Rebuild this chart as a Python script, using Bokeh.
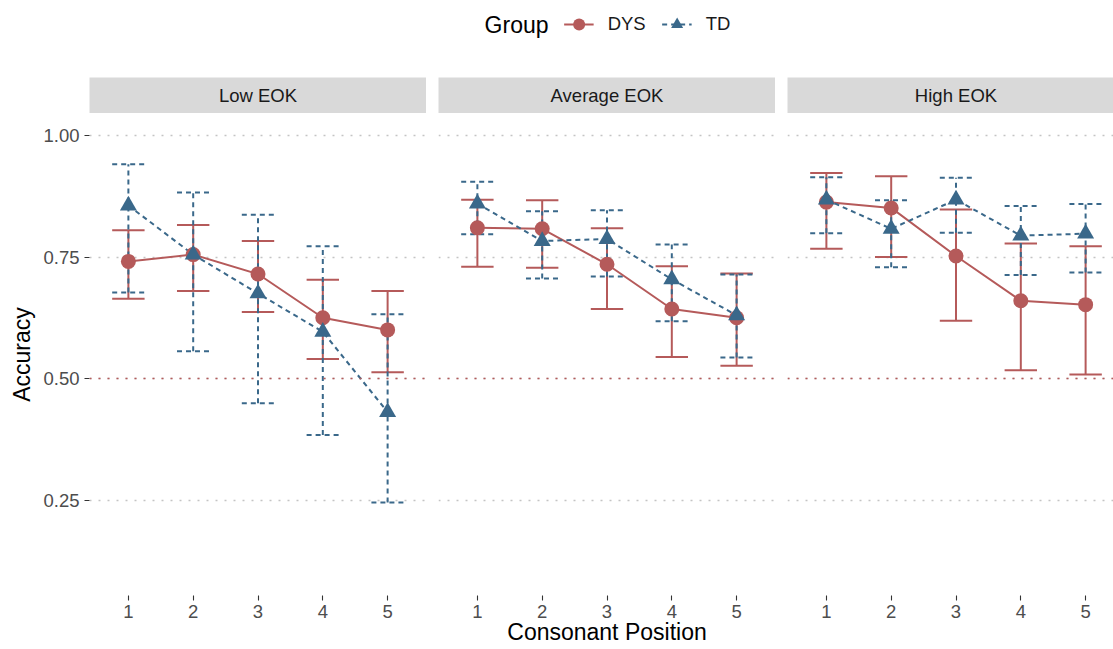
from bokeh.plotting import figure
from bokeh.layouts import row, column
from bokeh.models import (Range1d, FixedTicker, Span, Label, Legend, LegendItem,
                          ColumnDataSource, Grid, NumeralTickFormatter)
from bokeh.embed import file_html
from bokeh.resources import INLINE

# ---------------- data ----------------
positions = [1, 2, 3, 4, 5]
facet_labels = ["Low EOK", "Average EOK", "High EOK"]
group_labels = ["DYS", "TD"]
y_ticks = [0.25, 0.50, 0.75, 1.00]
chance_level = 0.5

dys_low_mean = [0.741, 0.755, 0.715, 0.625, 0.600]
dys_low_lower = [0.664, 0.680, 0.637, 0.540, 0.513]
dys_low_upper = [0.805, 0.816, 0.783, 0.703, 0.680]
td_low_mean = [0.856, 0.755, 0.675, 0.596, 0.431]
td_low_lower = [0.677, 0.556, 0.449, 0.384, 0.245]
td_low_upper = [0.941, 0.883, 0.837, 0.772, 0.632]

dys_avg_mean = [0.810, 0.808, 0.735, 0.643, 0.625]
dys_avg_lower = [0.730, 0.728, 0.643, 0.544, 0.526]
dys_avg_upper = [0.868, 0.867, 0.809, 0.731, 0.716]
td_avg_mean = [0.860, 0.783, 0.787, 0.704, 0.630]
td_avg_lower = [0.797, 0.706, 0.710, 0.618, 0.543]
td_avg_upper = [0.905, 0.844, 0.846, 0.776, 0.714]

dys_high_mean = [0.863, 0.851, 0.752, 0.660, 0.652]
dys_high_lower = [0.767, 0.750, 0.619, 0.517, 0.508]
dys_high_upper = [0.923, 0.916, 0.848, 0.778, 0.772]
td_high_mean = [0.868, 0.808, 0.868, 0.794, 0.798]
td_high_lower = [0.799, 0.729, 0.800, 0.713, 0.718]
td_high_upper = [0.914, 0.867, 0.913, 0.855, 0.859]

# ---------------- style ----------------
FONT = "Liberation Sans"
DYS_COLOR = "#B55A5A"
TD_COLOR = "#3A688A"
TD_DASH = "5 4"
CAP_HALF = 0.25
TICK_FONT = "18.5px"
TITLE_FONT = "23px"
NAN = float("nan")

facets = [
    ((dys_low_mean, dys_low_lower, dys_low_upper), (td_low_mean, td_low_lower, td_low_upper)),
    ((dys_avg_mean, dys_avg_lower, dys_avg_upper), (td_avg_mean, td_avg_lower, td_avg_upper)),
    ((dys_high_mean, dys_high_lower, dys_high_upper), (td_high_mean, td_high_lower, td_high_upper)),
]

y_range = Range1d(0.0535, 1.0453)
X_SPAN = 5.2          # data units visible in a full 337px panel
FULL_W = 337
frame_widths = [337, 337, 326]
border_lefts = [89, 12, 12]
PANEL_H = 536
PANEL_BOTTOM = 54


def x_range_for(i):
    return Range1d(0.4, 0.4 + frame_widths[i] * X_SPAN / FULL_W)


def style_axis(ax):
    ax.axis_line_color = None
    ax.major_tick_line_color = "#333333"
    ax.major_tick_line_width = 1.1
    ax.major_tick_in = 0
    ax.major_tick_out = 5
    ax.minor_tick_line_color = None
    ax.major_label_text_font = FONT
    ax.major_label_text_font_size = TICK_FONT
    ax.major_label_text_color = "#4D4D4D"
    ax.axis_label_text_font = FONT
    ax.axis_label_text_font_size = TITLE_FONT
    ax.axis_label_text_font_style = "normal"
    ax.axis_label_text_color = "#000000"


def make_panel(i, xr):
    first = i == 0
    p = figure(width=border_lefts[i] + frame_widths[i], height=PANEL_H,
               x_range=xr, y_range=y_range,
               output_backend="svg", toolbar_location=None, title=None,
               min_border_left=border_lefts[i], min_border_right=0,
               min_border_top=0, min_border_bottom=PANEL_BOTTOM,
               y_axis_location="left" if first else None,
               x_axis_location="below")
    p.outline_line_color = None
    p.background_fill_color = "white"
    p.border_fill_color = "white"
    for g in p.grid:
        g.visible = False
    p.add_layout(Grid(dimension=1, ticker=FixedTicker(ticks=y_ticks),
                      grid_line_color="#C4C4C4", grid_line_width=1.6,
                      grid_line_dash="2 7"), "center")

    xa = p.xaxis[0]
    xa.ticker = FixedTicker(ticks=positions)
    style_axis(xa)
    xa.major_label_standoff = 4
    if i == 1:
        xa.axis_label = "Consonant Position"
        xa.axis_label_standoff = -2
    if first:
        ya = p.yaxis[0]
        ya.ticker = FixedTicker(ticks=y_ticks)
        ya.formatter = NumeralTickFormatter(format="0.00")
        style_axis(ya)
        ya.major_label_standoff = 5
        ya.axis_label = "Accuracy"
        ya.axis_label_standoff = 5

    p.add_layout(Span(location=chance_level, dimension="width",
                      line_color=DYS_COLOR, line_width=1.6, line_dash="2 7"))

    (dm, dl, du), (tm, tl, tu) = facets[i]
    groups = [
        (dm, dl, du, DYS_COLOR, "solid", "circle", 15),
        (tm, tl, tu, TD_COLOR, TD_DASH, "triangle", 17),
    ]
    sources = []
    for mean, lo, hi, color, dash, marker, size in groups:
        src = ColumnDataSource(dict(
            x=positions, mean=mean, lo=lo, hi=hi,
            cl=[x - CAP_HALF for x in positions],
            cr=[x + CAP_HALF for x in positions]))
        sources.append(src)
        for (x0, y0, x1, y1) in [("x", "lo", "x", "hi"), ("cl", "lo", "cr", "lo"),
                                 ("cl", "hi", "cr", "hi")]:
            p.segment(x0=x0, y0=y0, x1=x1, y1=y1, source=src,
                      line_color=color, line_width=2, line_dash=dash)
    for src, (mean, lo, hi, color, dash, marker, size) in zip(sources, groups):
        p.line(x="x", y="mean", source=src, line_color=color, line_width=2,
               line_dash=dash)
    for src, (mean, lo, hi, color, dash, marker, size) in zip(sources, groups):
        p.scatter(x="x", y="mean", source=src, marker=marker, size=size,
                  fill_color=color, line_color=None)
    return p


def make_strip(i, xr):
    s = figure(width=border_lefts[i] + frame_widths[i], height=36,
               x_range=xr, y_range=Range1d(0, 1),
               output_backend="svg", toolbar_location=None, title=None,
               x_axis_location=None, y_axis_location=None,
               min_border_left=border_lefts[i], min_border_right=0,
               min_border_top=0, min_border_bottom=0)
    s.background_fill_color = "#D9D9D9"
    s.border_fill_color = "white"
    s.outline_line_color = None
    for g in s.grid:
        g.visible = False
    s.add_layout(Label(x=(positions[0] + positions[-1]) / 2, y=0.5,
                       text=facet_labels[i], text_align="center",
                       text_baseline="middle", text_font=FONT,
                       text_font_size=TICK_FONT, text_color="#1A1A1A"))
    return s


panels, strips = [], []
for i in range(3):
    xr = x_range_for(i)
    panels.append(make_panel(i, xr))
    strips.append(make_strip(i, xr))

# ---------------- legend ----------------
lg = figure(width=1113, height=77, x_range=Range1d(0, 932), y_range=Range1d(0, 48),
            output_backend="svg", toolbar_location=None, title=None,
            x_axis_location=None, y_axis_location=None,
            min_border_left=181, min_border_right=0,
            min_border_top=0, min_border_bottom=29)
lg.outline_line_color = None
for g in lg.grid:
    g.visible = False
r_dys_line = lg.line(x=[NAN], y=[NAN], line_color=DYS_COLOR, line_width=2)
r_dys_pt = lg.scatter(x=[NAN], y=[NAN], marker="circle", size=15,
                      fill_color=DYS_COLOR, line_color=None)
r_td_line = lg.line(x=[NAN], y=[NAN], line_color=TD_COLOR, line_width=2, line_dash=TD_DASH)
r_td_pt = lg.scatter(x=[NAN], y=[NAN], marker="triangle", size=17,
                     fill_color=TD_COLOR, line_color=None)
legend = Legend(items=[LegendItem(label=group_labels[0], renderers=[r_dys_line, r_dys_pt]),
                       LegendItem(label=group_labels[1], renderers=[r_td_line, r_td_pt])],
                orientation="horizontal", location="center",
                glyph_width=30, glyph_height=30, label_standoff=14, spacing=16,
                padding=0, margin=0, border_line_color=None, background_fill_alpha=0,
                label_text_font=FONT, label_text_font_size=TICK_FONT,
                label_text_color="#1A1A1A")
lg.add_layout(legend, "center")
lg.add_layout(Label(x=367, y=24, text="Group", text_align="right",
                    text_baseline="middle", text_font=FONT,
                    text_font_size=TITLE_FONT, text_color="#000000"))

layout = column(lg, row(*strips), row(*panels))

open("out.html", "w").write(file_html(layout, INLINE))
